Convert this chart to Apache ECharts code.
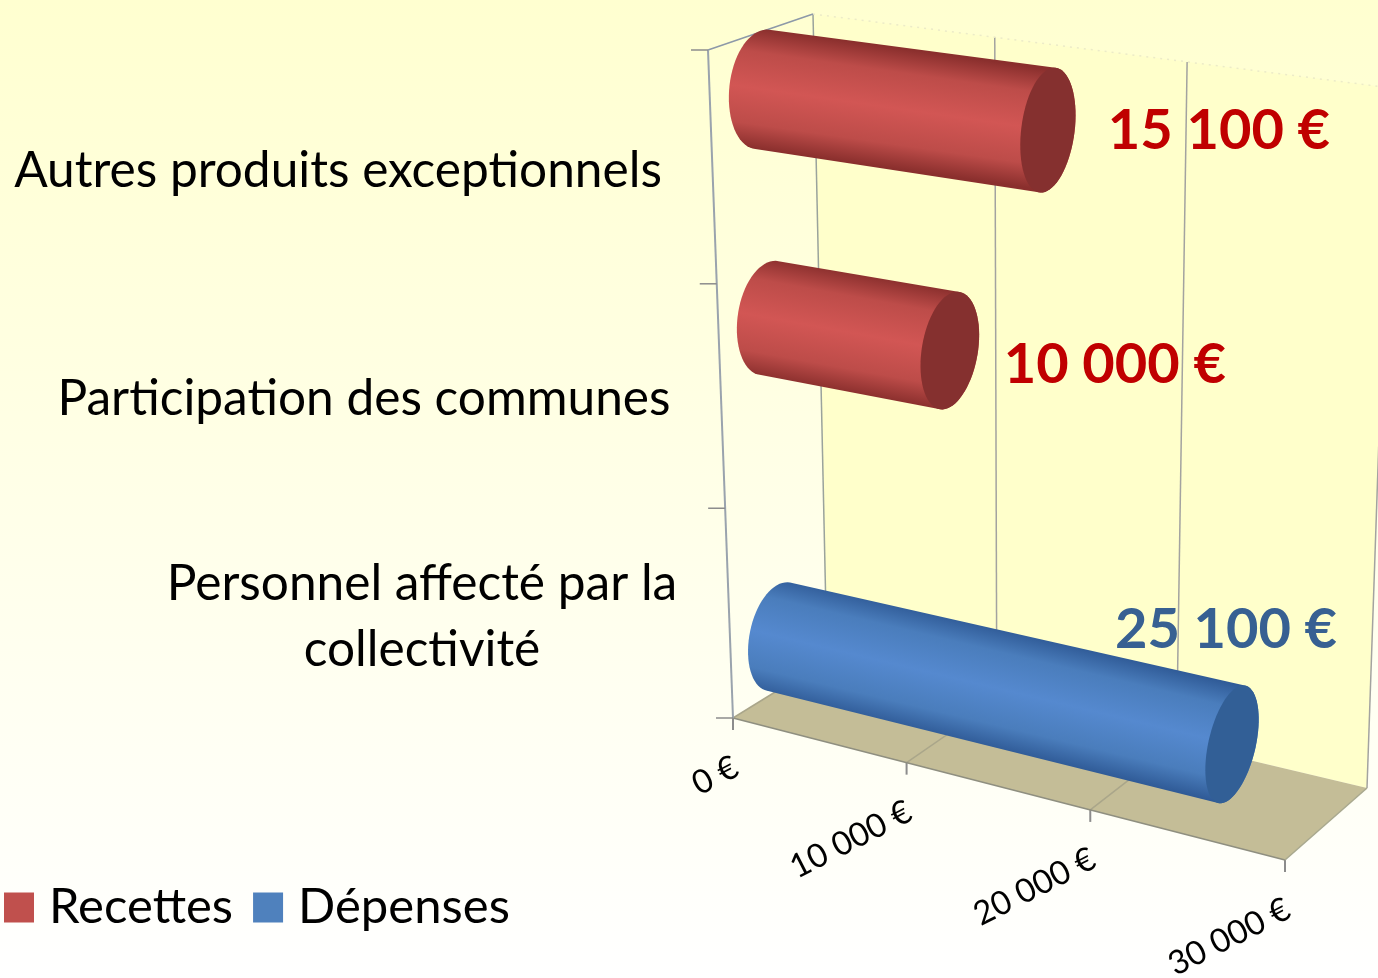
<!DOCTYPE html>
<html>
<head>
<meta charset="utf-8">
<style>html,body{margin:0;padding:0;background:#fff}#chart{width:1378px;height:978px}</style>
<script src="https://cdn.jsdelivr.net/npm/echarts@6/dist/echarts.min.js"></script>
</head>
<body>
<div id="chart"></div>
<script>
var categories = ['Autres produits exceptionnels', 'Participation des communes', 'Personnel affecté par la\ncollectivité'];
var recettes = [15100, 10000, null];
var depenses = [null, null, 25100];
var xTicks = [0, 10000, 20000, 30000];
var xTickLabels = ['0 €', '10 000 €', '20 000 €', '30 000 €'];

// layout of the fake 3d box
var gridLeft = 733, gridWidth = 552;
var box = {
  frontBottomLeft: [733, 718], frontBottomRight: [1285, 860],
  backBottomLeft: [827, 660], backBottomRight: [1367, 788],
  frontTopLeft: [708, 50], frontTopRight: [1325, 136],
  backTopLeft: [813, 14], backTopRight: [1391, 88]
};
var barLevel = [0.913, 0.565, 0.08];
var barRadius = [0.089, 0.084, 0.078];
var catTicks = [0, 0.314, 0.65, 1];
var catLabelPos = [[338, 171], [364, 399], [422, 617]];
var valueLabelOffset = [[171, 1], [165, 14], [-6, -114]];
var radiusDepth = 0.32;
var FONT = 'Lato';

function lerp(a, b, k) {
  return [a[0] + (b[0] - a[0]) * k, a[1] + (b[1] - a[1]) * k];
}
// perspective along the value axis
function persp(t) {
  return t / (t + (1 - t) * 1.09);
}
// t along value axis, d depth, h height -> pixels
function P(t, d, h) {
  var s = persp(t);
  var fb = lerp(box.frontBottomLeft, box.frontBottomRight, s);
  var bb = lerp(box.backBottomLeft, box.backBottomRight, s);
  var ft = lerp(box.frontTopLeft, box.frontTopRight, s);
  var bt = lerp(box.backTopLeft, box.backTopRight, s);
  return lerp(lerp(fb, bb, d), lerp(ft, bt, d), h);
}
function valueToT(api, v) {
  return (api.coord([v, 0])[0] - gridLeft) / gridWidth;
}
function line(a, b, color, width, dash) {
  return {
    type: 'line',
    shape: { x1: a[0], y1: a[1], x2: b[0], y2: b[1] },
    style: { stroke: color, lineWidth: width || 1.5, lineDash: dash || null }
  };
}
function hull(points) {
  var pts = points.slice().sort(function (a, b) { return a[0] - b[0] || a[1] - b[1]; });
  function cross(o, a, b) {
    return (a[0] - o[0]) * (b[1] - o[1]) - (a[1] - o[1]) * (b[0] - o[0]);
  }
  var lower = [], upper = [];
  pts.forEach(function (p) {
    while (lower.length > 1 && cross(lower[lower.length - 2], lower[lower.length - 1], p) <= 0) lower.pop();
    lower.push(p);
  });
  pts.slice().reverse().forEach(function (p) {
    while (upper.length > 1 && cross(upper[upper.length - 2], upper[upper.length - 1], p) <= 0) upper.pop();
    upper.push(p);
  });
  return lower.slice(0, -1).concat(upper.slice(0, -1));
}
function cap(t, level, radius) {
  var pts = [];
  for (var i = 0; i < 72; i++) {
    var a = i / 72 * Math.PI * 2;
    pts.push(P(t, 0.5 + radiusDepth * Math.cos(a), level + radius * Math.sin(a)));
  }
  return pts;
}

function renderFrame(params, api) {
  var kids = [];
  var gray = '#a3a3a0';
  kids.push({
    type: 'polygon',
    shape: { points: [box.backBottomLeft, box.backBottomRight, box.backTopRight, box.backTopLeft] },
    style: { fill: '#ffffcb' }
  });
  kids.push({
    type: 'polygon',
    shape: { points: [box.frontBottomLeft, box.frontBottomRight, box.backBottomRight, box.backBottomLeft] },
    style: { fill: '#c4bd97' }
  });
  xTicks.forEach(function (v, i) {
    var t = valueToT(api, v);
    var front = P(t, 0, 0), back = P(t, 1, 0);
    if (i < xTicks.length - 1) kids.push(line(front, back, '#aaa68a'));
    kids.push(line(back, P(t, 1, 1), i === 0 ? '#9aa39c' : gray));
    kids.push(line(front, [front[0], front[1] + 12], '#8c8c8c', 2));
    kids.push({
      type: 'text',
      x: front[0] + 3,
      y: front[1] + 47,
      rotation: 27 * Math.PI / 180,
      style: { text: xTickLabels[i], x: 0, y: 0, align: 'right', verticalAlign: 'middle', fill: '#000', font: '33px ' + FONT }
    });
  });
  // top edge of the back wall is barely visible
  kids.push(line(box.backTopLeft, box.backTopRight, '#ecebc8', 1.5, [2, 5]));
  kids.push(line(box.frontBottomLeft, box.frontBottomRight, '#8f8f80', 1.5));
  kids.push(line(box.frontBottomRight, box.backBottomRight, '#a9a98f', 1.5));
  kids.push(line(box.backTopLeft, box.frontTopLeft, '#8d99a8', 1.5));
  kids.push(line(box.frontTopLeft, box.frontBottomLeft, '#9aa3ad', 2));
  catTicks.forEach(function (h) {
    var p = P(0, 0, h);
    kids.push(line([p[0] - 17, p[1]], p, '#8c8c8c', 1.5));
  });
  categories.forEach(function (name, i) {
    kids.push({
      type: 'text',
      style: {
        text: name, x: catLabelPos[i][0], y: catLabelPos[i][1], align: 'center', verticalAlign: 'middle',
        fill: '#000', font: '49.6px ' + FONT, lineHeight: 66
      }
    });
  });
  return { type: 'group', children: kids };
}

function makeBarRender(colors) {
  return function (params, api) {
    var v = api.value(0), i = api.value(1);
    var t = valueToT(api, v);
    var level = barLevel[i];
    var start = cap(0, level, barRadius[i]), end = cap(t, level, barRadius[i]);
    var c0 = P(0, 0.5, level), c1 = P(t, 0.5, level);
    var dx = c1[0] - c0[0], dy = c1[1] - c0[1], len = Math.sqrt(dx * dx + dy * dy);
    var nx = -dy / len, ny = dx / len;
    var half = 60;
    var mid = lerp(c0, c1, 0.5);
    var fill = new echarts.graphic.LinearGradient(
      mid[0] - nx * half, mid[1] - ny * half, mid[0] + nx * half, mid[1] + ny * half,
      [
        { offset: 0, color: colors.edge },
        { offset: 0.2, color: colors.mid },
        { offset: 0.5, color: colors.light },
        { offset: 0.8, color: colors.mid },
        { offset: 1, color: colors.edge }
      ], true);
    var labelAt = [c1[0] + valueLabelOffset[i][0], c1[1] + valueLabelOffset[i][1]];
    return {
      type: 'group',
      children: [
        { type: 'polygon', shape: { points: hull(start.concat(end)) }, style: { fill: fill } },
        { type: 'polygon', shape: { points: end }, style: { fill: colors.cap } },
        {
          type: 'text',
          style: {
            text: String(v).replace(/(\d{3})$/, ' $1') + ' €', x: labelAt[0], y: labelAt[1],
            align: 'center', verticalAlign: 'middle', fill: colors.label, font: 'bold 56px ' + FONT
          }
        }
      ]
    };
  };
}

function toData(values) {
  var out = [];
  values.forEach(function (v, i) {
    if (v !== null) out.push([v, i]);
  });
  return out;
}

var myChart = echarts.init(document.getElementById('chart'));
myChart.setOption({
  animation: false,
  backgroundColor: new echarts.graphic.LinearGradient(0, 0, 0, 1, [
    { offset: 0, color: '#ffffd0' },
    { offset: 1, color: '#ffffff' }
  ]),
  grid: { left: gridLeft, width: gridWidth, top: 50, height: 668 },
  xAxis: { type: 'value', min: 0, max: 30000, interval: 10000, show: false },
  yAxis: { type: 'category', data: categories, show: false },
  legend: {
    left: -1, top: 878, icon: 'rect', itemWidth: 30, itemHeight: 30, itemGap: 20,
    data: ['Recettes', 'Dépenses'],
    textStyle: { fontFamily: FONT, fontSize: 49, color: '#000', padding: [0, 0, 0, 10] }
  },
  series: [
    { type: 'custom', silent: true, z: 1, data: [[0, 0]], encode: { x: 0, y: 1 }, renderItem: renderFrame },
    {
      name: 'Recettes', type: 'custom', z: 2, silent: true, itemStyle: { color: '#c0504d' },
      data: toData(recettes), encode: { x: 0, y: 1 },
      renderItem: makeBarRender({ edge: '#8a2f2d', mid: '#bd4c49', light: '#d25654', cap: '#85302f', label: '#c00000' })
    },
    {
      name: 'Dépenses', type: 'custom', z: 2, silent: true, itemStyle: { color: '#4f81bd' },
      data: toData(depenses), encode: { x: 0, y: 1 },
      renderItem: makeBarRender({ edge: '#2f5a96', mid: '#4a7dbc', light: '#5589cf', cap: '#325f96', label: '#376092' })
    }
  ]
});
</script>
</body>
</html>
